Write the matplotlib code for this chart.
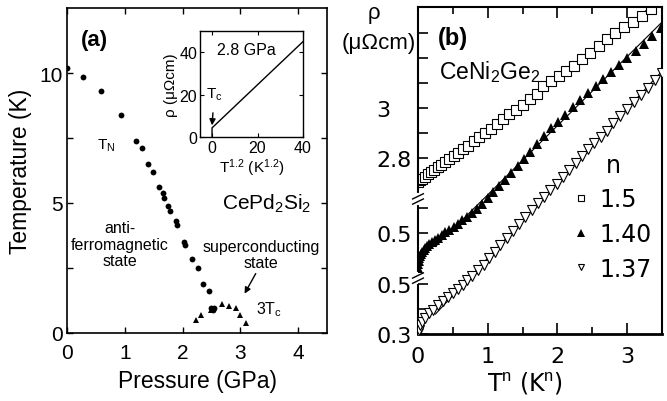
import numpy as np
import matplotlib
matplotlib.use("Agg")
import matplotlib.pyplot as plt
from matplotlib.lines import Line2D

plt.rcParams["font.family"] = ["Liberation Sans", "DejaVu Sans"]
plt.rcParams["mathtext.fontset"] = "custom"
plt.rcParams["mathtext.rm"] = "Liberation Sans"
plt.rcParams["mathtext.it"] = "Liberation Sans:italic"
plt.rcParams["mathtext.bf"] = "Liberation Sans:bold"

NARROW = ["Liberation Sans Narrow", "DejaVu Sans"]

# ---- panel (a): CePd2Si2 phase diagram ----
tn_pressure = [0.0, 0.28, 0.59, 0.93, 1.2, 1.29, 1.41, 1.48, 1.59, 1.66, 1.68, 1.74,
               1.79, 1.88, 1.91, 2.03, 2.05, 2.17, 2.26, 2.36, 2.45, 2.49, 2.52, 2.55]
tn_temp = [10.2, 9.85, 9.3, 8.4, 7.4, 7.1, 6.5, 6.2, 5.6, 5.4, 5.2, 4.9,
           4.7, 4.3, 4.15, 3.5, 3.4, 2.85, 2.5, 1.9, 1.6, 0.95, 0.9, 0.95]
tc_pressure = [2.24, 2.32, 2.5, 2.69, 2.81, 2.93, 3.0, 3.09]
tc_temp3 = [0.5, 0.7, 0.9, 1.1, 1.05, 0.95, 0.7, 0.4]

# inset: resistivity vs T^1.2 at 2.8 GPa
inset_t12 = [0.0, 0.0, 40.0]
inset_rho = [0.0, 4.3, 45.0]

# ---- panel (b): CeNi2Ge2 resistivity vs T^n ----
sq_x = [0.0, 0.03, 0.06, 0.1, 0.14, 0.18, 0.23, 0.28, 0.33, 0.39, 0.45, 0.51, 0.58,
        0.65, 0.72, 0.8, 0.88, 0.96, 1.04, 1.13, 1.22, 1.31, 1.4, 1.5, 1.6, 1.7,
        1.8, 1.91, 2.02, 2.13, 2.24, 2.35, 2.47, 2.59, 2.71, 2.83, 2.95, 3.08,
        3.21, 3.34]
sq_rho = [2.705, 2.712, 2.718, 2.726, 2.735, 2.744, 2.752, 2.763, 2.772, 2.785,
          2.796, 2.808, 2.822, 2.838, 2.85, 2.868, 2.884, 2.902, 2.918, 2.938,
          2.958, 2.975, 2.994, 3.012, 3.035, 3.055, 3.09, 3.11, 3.13, 3.15, 3.17,
          3.195, 3.222, 3.25, 3.275, 3.3, 3.325, 3.345, 3.37, 3.398]

ft_x = [0.0, 0.005, 0.01, 0.02, 0.03, 0.045, 0.06, 0.08, 0.1, 0.13, 0.16, 0.2,
        0.24, 0.29, 0.34, 0.39, 0.45, 0.51, 0.57, 0.63, 0.7, 0.77, 0.84, 0.92,
        1.0, 1.08, 1.16, 1.25, 1.34, 1.43, 1.52, 1.61, 1.71, 1.81, 1.91, 2.01,
        2.11, 2.22, 2.33, 2.44, 2.55, 2.66, 2.77, 2.88, 3.0, 3.12, 3.24, 3.36, 3.48]
ft_rho = [0.36, 0.375, 0.39, 0.402, 0.41, 0.418, 0.425, 0.432, 0.439, 0.447,
          0.455, 0.464, 0.472, 0.482, 0.492, 0.503, 0.514, 0.526, 0.538, 0.551,
          0.566, 0.582, 0.598, 0.618, 0.64, 0.664, 0.688, 0.714, 0.742, 0.77,
          0.798, 0.826, 0.858, 0.89, 0.92, 0.946, 0.974, 1.004, 1.034, 1.062,
          1.09, 1.118, 1.146, 1.172, 1.2, 1.23, 1.256, 1.29, 1.322]

ot_x = [0.0, 0.01, 0.03, 0.06, 0.1, 0.16, 0.22, 0.29, 0.36, 0.43, 0.5, 0.57, 0.64,
        0.71, 0.78, 0.86, 0.94, 1.02, 1.1, 1.18, 1.27, 1.36, 1.45, 1.54, 1.63,
        1.72, 1.81, 1.9, 1.99, 2.08, 2.17, 2.26, 2.35, 2.44, 2.53, 2.62, 2.71,
        2.8, 2.9, 3.0, 3.1, 3.2, 3.3, 3.4, 3.5]
ot_rho = [0.305, 0.318, 0.335, 0.35, 0.365, 0.383, 0.398, 0.415, 0.432, 0.448,
          0.464, 0.48, 0.497, 0.515, 0.534, 0.555, 0.578, 0.604, 0.63, 0.655,
          0.683, 0.712, 0.74, 0.768, 0.796, 0.824, 0.85, 0.876, 0.902, 0.93,
          0.958, 0.986, 1.012, 1.04, 1.066, 1.09, 1.114, 1.145, 1.172, 1.2, 1.23,
          1.258, 1.285, 1.315, 1.345]

n_labels = ["1.5", "1.40", "1.37"]

fig = plt.figure(figsize=(6.67, 4.02), dpi=100)

# ================= panel (a) =================
ax = fig.add_axes([67 / 667, 68 / 402, 260 / 667, 325 / 402])
ax.plot(tn_pressure, tn_temp, "o", color="black", ms=4.2, mew=0)
ax.plot(tc_pressure, tc_temp3, "^", color="black", ms=4.5, mew=0)
ax.set_xlim(0, 4.5)
ax.set_ylim(0, 12.5)
ax.set_xticks([0, 1, 2, 3, 4])
ax.set_yticks([0, 5, 10])
ax.set_yticks([2.5, 7.5], minor=True)
ax.tick_params(which="both", direction="in", length=4, width=1,
               top=True, right=True, labelsize=15)
ax.tick_params(axis="x", pad=7)
ax.tick_params(axis="y", pad=3)
for s in ax.spines.values():
    s.set_linewidth(1.2)
ax.set_xlabel("Pressure (GPa)", fontsize=16.5, labelpad=5)
ax.set_ylabel("Temperature (K)", fontsize=16.5)
ax.yaxis.set_label_coords(-0.135, 0.5)

ax.text(0.47, 11.3, "(a)", fontsize=16, fontweight="bold", ha="center", va="center")
ax.text(0.67, 7.23, r"T$_\mathrm{N}$", fontsize=11, ha="center", va="center")
ax.text(3.45, 5.0, r"CePd$_2$Si$_2$", fontsize=15, ha="center", va="center")
ax.text(0.92, 3.42, "anti-\nferromagnetic\nstate", fontsize=11.5, ha="center",
        va="center", linespacing=1.15)
ax.text(3.36, 3.02, "superconducting\nstate", fontsize=11.5, ha="center",
        va="center", linespacing=1.15)
ax.annotate("", xy=(3.05, 1.42), xytext=(3.29, 2.38),
            arrowprops=dict(arrowstyle="-|>", color="black", lw=1,
                            mutation_scale=9))
ax.text(3.5, 0.92, r"3T$_\mathrm{c}$", fontsize=11.5, ha="center", va="center")

# inset
axi = fig.add_axes([200 / 667, 264 / 402, 103 / 667, 106 / 402])
axi.plot(inset_t12, inset_rho, color="black", lw=1)
axi.set_xlim(-5.3, 40)
axi.set_ylim(0, 50)
axi.set_xticks([0, 20, 40])
axi.set_yticks([0, 20, 40])
axi.tick_params(direction="in", length=3, width=0.8, top=True, right=True,
                labelsize=11.5, pad=2)
for s in axi.spines.values():
    s.set_linewidth(1)
axi.set_xlabel(r"T$^{1.2}$ (K$^{1.2}$)", fontsize=11, labelpad=1)
axi.set_ylabel("ρ (μΩcm)", fontsize=11, labelpad=1)
axi.text(15.2, 41.4, "2.8 GPa", fontsize=11.5, ha="center", va="center")
axi.annotate(r"T$_\mathrm{c}$", xy=(0, 5.5), xytext=(1.0, 20.5), fontsize=11,
             ha="center", va="center",
             arrowprops=dict(arrowstyle="-|>", color="black", lw=1,
                             mutation_scale=9, shrinkA=6, shrinkB=0))

# ================= panel (b) =================
rect_b = [418 / 667, 67 / 402, 244 / 667, 327 / 402]
ax1 = fig.add_axes(rect_b)
ax2 = fig.add_axes(rect_b)
ax3 = fig.add_axes(rect_b)
for a in (ax2, ax3):
    a.patch.set_visible(False)
    for s in a.spines.values():
        s.set_visible(False)
    a.tick_params(axis="x", which="both", bottom=False, top=False,
                  labelbottom=False)

ax1.plot(sq_x, sq_rho, "s", ms=6.5, mfc="white", mec="black", mew=0.8)
ax2.plot(ft_x, ft_rho, "^", ms=7.5, color="black", mew=0)
ax3.plot(ot_x, ot_rho, "v", ms=6.5, mfc="white", mec="black", mew=0.8)

# straight-line fits through the linear part
for a, xs, ys in ((ax1, sq_x, sq_rho), (ax2, ft_x, ft_rho), (ax3, ot_x, ot_rho)):
    xs = np.asarray(xs)
    ys = np.asarray(ys)
    sel = xs > 0.5
    k, b = np.polyfit(xs[sel], ys[sel], 1)
    xf = np.array([0.25, 3.5])
    a.plot(xf, k * xf + b, color="black", lw=0.8, zorder=1)

for a in (ax1, ax2, ax3):
    a.set_xlim(0, 3.5)
ax1.set_ylim(2.096, 3.404)
ax2.set_ylim(0.096, 1.404)
ax3.set_ylim(0.3, 1.608)

ax1.set_xticks([0, 1, 2, 3])
ax1.set_xticks([0.5, 1.5, 2.5, 3.5], minor=True)
ax1.tick_params(axis="x", which="major", direction="in", length=8, width=1.2,
                top=True, labelsize=16, pad=9)
ax1.tick_params(axis="x", which="minor", direction="in", length=5, width=1.2,
                top=True)
for t in ax1.get_xticklabels():
    t.set_family(NARROW)

ax1.set_yticks([2.8, 3.0], labels=["2.8", "3"])
ax1.set_yticks([2.9, 3.1, 3.2, 3.3], minor=True)
ax2.set_yticks([0.5], labels=["0.5"])
ax2.set_yticks([0.6], minor=True)
ax3.set_yticks([0.3, 0.5], labels=["0.3", "0.5"])
ax3.set_yticks([0.4], minor=True)
for a in (ax1, ax2, ax3):
    a.tick_params(axis="y", which="both", direction="in", length=7, width=1.2,
                  labelsize=16, pad=30, right=False)
    for t in a.get_yticklabels():
        t.set_horizontalalignment("left")
        t.set_family(NARROW)
for s in ax1.spines.values():
    s.set_linewidth(1.5)
ax1.spines["bottom"].set_linewidth(2)

# axis break marks on the left spine
for yb in (0.413, 0.171):
    ax1.plot([0, 0], [yb - 0.012, yb + 0.012], color="white", lw=3,
             transform=ax1.transAxes, clip_on=False, zorder=5)
    for dy in (-0.008, 0.008):
        ax1.plot([-0.022, 0.022], [yb + dy - 0.008, yb + dy + 0.008],
                 color="black", lw=1, transform=ax1.transAxes, clip_on=False,
                 zorder=6)

ax1.set_xlabel(r"T$^\mathrm{n}$ (K$^\mathrm{n}$)", fontsize=17, family=NARROW)
ax1.xaxis.set_label_coords(0.437, -0.108)

fig.text(453 / 667, 1 - 38 / 402, "(b)", fontsize=17, fontweight="bold",
         ha="center", va="center")
fig.text(439 / 667, 1 - 72 / 402, r"CeNi$_2$Ge$_2$", fontsize=16.5,
         ha="left", va="center")
fig.text(374 / 667, 1 - 14 / 402, "ρ", fontsize=16, ha="center", va="center")
fig.text(379 / 667, 1 - 43 / 402, "(μΩcm)", fontsize=16, ha="center",
         va="center")

leg_handles = [
    Line2D([], [], ls="none", marker="s", ms=5, mfc="white", mec="black", mew=0.8),
    Line2D([], [], ls="none", marker="^", ms=6, color="black", mew=0),
    Line2D([], [], ls="none", marker="v", ms=5, mfc="white", mec="black", mew=0.8),
]
leg = ax3.legend(leg_handles, n_labels, title="n", loc="upper left",
                 bbox_to_anchor=(562 / 667, 1 - 142 / 402),
                 bbox_transform=fig.transFigure, frameon=False,
                 prop={"family": NARROW, "size": 17}, handlelength=0.6,
                 handletextpad=0.5, labelspacing=0.45, borderpad=0)
leg.get_title().set_fontsize(17)
leg.get_title().set_family(NARROW)

fig.savefig("out.png", dpi=100)
